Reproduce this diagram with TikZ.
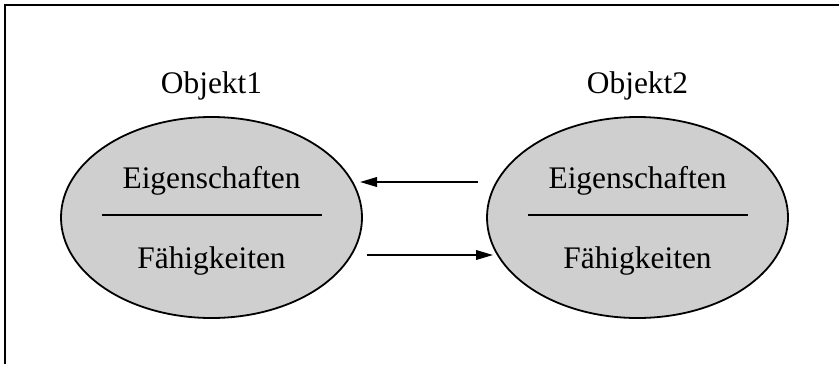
\documentclass[tikz,border=0pt]{standalone}
\usepackage{fontspec}
\setmainfont{Liberation Serif}
\usetikzlibrary{shapes.geometric, positioning, arrows.meta}
\definecolor{objfill}{RGB}{207,207,207}
\tikzset{
  obj/.style={
    ellipse,
    draw=black,
    line width=0.9pt,
    fill=objfill,
    minimum width=150.5pt,
    minimum height=100.5pt,
    inner sep=0pt,
  },
  objname/.style={
    font=\fontsize{15.7}{18}\selectfont,
    inner sep=0pt,
  },
  part/.style={
    objname,
    anchor=base,
  },
  divider/.style={
    line width=0.9pt,
  },
  msg/.style={
    -{Triangle[length=8.5pt,width=4.8pt]},
    line width=0.9pt,
  },
  frame/.style={
    line width=1.4pt,
  },
}

\begin{document}
\begin{tikzpicture}[x=0.5pt, y=-0.5pt]
		\useasboundingbox (0,0) rectangle (839,364);
		\draw[frame] (5,364) -- (5,5) -- (839,5);

		% objects
		\node[obj] (o1) at (211.5,217.5) {};
		\node[obj] (o2) at (637.5,217.5) {};
		\node[objname, above=8pt of o1] (o1name) {Objekt1};
		\node[objname, above=8pt of o2] (o2name) {Objekt2};

		% contents
		\foreach \o in {o1,o2} {
			\node[part] (\o prop) at ([yshift=14.75pt]\o.center) {Eigenschaften};
			\node[part] (\o abil) at ([yshift=-25.25pt]\o.center) {Fähigkeiten};
			\draw[divider] ([xshift=-55pt,yshift=1.25pt]\o.center) -- ([xshift=55pt,yshift=1.25pt]\o.center);
		}

		% messages
		\coordinate (m1s) at (478,182);
		\coordinate (m1e) at (360,182);
		\coordinate (m2s) at (367,255);
		\coordinate (m2e) at (493,255);
		\draw[msg] (m1s) -- (m1e);
		\draw[msg] (m2s) -- (m2e);
	\end{tikzpicture}
\end{document}
